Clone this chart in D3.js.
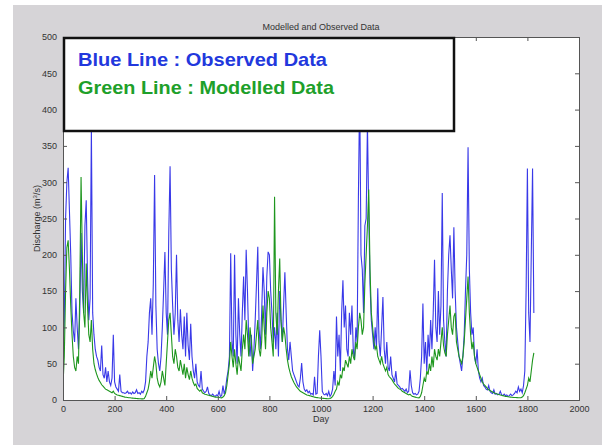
<!DOCTYPE html>
<html><head><meta charset="utf-8">
<script src="https://cdn.jsdelivr.net/npm/d3@7"></script>
<style>html,body{margin:0;padding:0;background:#fff;}svg{display:block;}</style>
</head><body>
<script>
// Day sampling (every 5 days)
const dayStep = 5;
const observed = [
60,110,250,300,320,260,200,120,95,80,
140,100,70,120,230,150,120,240,275,170,
110,140,375,120,90,70,60,55,45,40,
75,35,30,45,25,40,25,20,30,90,
25,18,15,12,35,12,10,10,9,10,
12,9,10,8,11,9,10,14,9,10,
8,12,10,14,25,60,80,120,140,90,
160,310,130,70,50,40,60,100,150,204,
120,90,230,322,180,130,90,120,200,110,
80,125,90,70,115,60,120,75,55,105,
60,40,30,50,25,20,18,40,15,12,
10,12,18,9,7,6,8,6,5,7,
6,12,5,6,20,8,15,30,40,60,
202,80,60,200,90,50,140,90,60,120,
170,110,207,150,80,60,90,40,70,110,
160,211,100,70,120,183,150,90,170,204,
200,150,120,80,100,70,120,60,150,110,
80,130,176,120,70,55,80,60,40,35,
30,25,20,18,30,51,25,15,12,14,
10,12,8,9,7,32,8,9,60,96,
60,12,8,7,9,6,12,5,8,15,
40,20,115,60,90,40,120,165,100,130,
70,60,120,90,130,70,55,100,80,280,
430,200,180,120,240,250,380,260,160,110,
90,70,100,70,154,80,60,100,142,70,
50,80,45,40,60,35,30,25,40,22,
20,18,15,16,14,12,15,10,12,41,
20,10,8,9,7,8,12,30,60,133,
50,80,40,90,60,110,70,120,193,100,
80,150,90,130,285,110,80,60,150,200,
227,180,140,238,150,100,80,60,50,40,
60,90,150,200,348,180,120,90,100,60,
50,70,40,30,25,30,20,18,15,14,
20,12,10,9,14,8,9,7,8,12,
7,6,8,6,7,5,6,8,6,7,
9,12,10,18,12,15,10,20,40,150,
319,120,80,200,319,120
];
const modelled = [
20,60,150,210,220,180,130,90,60,45,
40,60,50,150,307,200,120,100,188,130,
90,80,110,70,50,42,36,31,27,24,
21,19,17,15,14,13,12,11,10,12,
9,8,7,6.5,6,5.5,5,4.5,4,3.8,
3.5,3.2,3,2.8,2.6,2.4,2.2,2,1.9,1.8,
1.7,1.6,1.5,2,5,10,15,25,40,30,
45,60,50,30,22,18,25,40,30,20,
50,80,110,120,90,60,50,70,60,45,
40,55,45,35,50,30,45,35,28,40,
30,24,20,22,16,14,12,14,10,9,
8,7.5,7,6.5,6,5.5,5,4.5,4,4,
3.8,3.5,3.2,3,4,6,10,20,35,50,
80,60,45,70,50,35,60,50,40,70,
90,70,110,90,60,100,80,50,60,70,
90,110,70,60,80,130,100,70,120,150,
140,100,80,60,280,120,90,150,195,110,
80,100,90,70,55,45,38,32,28,24,
21,18,16,14,12,11,10,9,8,7,
6.5,6,5.5,5,4.5,4,3.6,3.3,3,2.8,
2.6,2.4,2.2,2,1.9,1.8,1.7,2,3,5,
8,12,15,25,20,35,30,45,40,55,
50,45,60,50,70,60,55,80,70,100,
120,110,90,100,160,200,240,290,180,120,
100,80,70,75,60,55,50,60,50,45,
40,45,35,32,30,28,25,22,20,18,
16,15,14,12,11,10,9,8,7,8,
6,5,4.5,4,3.5,3.2,3,5,10,20,
30,25,40,35,50,40,60,45,70,60,
55,70,60,80,100,75,65,60,90,110,
130,100,90,115,120,80,70,60,55,50,
60,80,110,140,170,120,90,70,80,60,
50,45,40,35,30,25,22,20,18,16,
14,13,12,11,10,9,8.5,8,7.5,7,
6.5,6,5.5,5,4.8,4.5,4.2,4,3.8,3.6,
3.5,3.4,3.3,3.2,3,3,4,6,10,15,
20,30,25,40,55,65
];
const xTicks = [0,200,400,600,800,1000,1200,1400,1600,1800,2000];
const yTicks = [0,50,100,150,200,250,300,350,400,450,500];
const titleText = "Modelled and Observed Data";
const xLabel = "Day";
const legendLines = ["Blue Line : Observed Data", "Green Line : Modelled Data"];

(function () {
const W = 602, H = 445;
const m = {left: 63, right: 23, top: 37, bottom: 45};
const font = "Arial, 'Liberation Sans', sans-serif";
const svg = d3.select("body").append("svg").attr("width", W).attr("height", H);
svg.append("rect").attr("x", 13).attr("y", 5).attr("width", W - 13).attr("height", H - 5).attr("fill", "#d6d4d7");

const x = d3.scaleLinear().domain([0, 2000]).range([m.left, W - m.right]);
const y = d3.scaleLinear().domain([0, 500]).range([H - m.bottom, m.top]);

svg.append("rect").attr("x", x(0)).attr("y", y(500)).attr("width", x(2000) - x(0)).attr("height", y(0) - y(500)).attr("fill", "#fff");

svg.append("clipPath").attr("id", "c").append("rect")
  .attr("x", x(0)).attr("y", y(500)).attr("width", x(2000) - x(0)).attr("height", y(0) - y(500));

const line = d3.line().x((d, i) => x(i * dayStep)).y(d => y(d));
const g = svg.append("g").attr("clip-path", "url(#c)");
g.append("path").datum(observed).attr("d", line).attr("fill", "none").attr("stroke", "#2424e6").attr("stroke-width", 1.1).attr("stroke-opacity", 0.9);
g.append("path").datum(modelled).attr("d", line).attr("fill", "none").attr("stroke", "#1e961e").attr("stroke-width", 1.1);

const tc = "#333";
const axB = svg.append("g").attr("transform", `translate(0,${y(0)})`)
  .call(d3.axisBottom(x).tickValues(xTicks).tickSize(-4).tickPadding(6).tickFormat(d3.format("d")));
const axT = svg.append("g").attr("transform", `translate(0,${y(500)})`)
  .call(d3.axisTop(x).tickValues(xTicks).tickSize(-4).tickFormat(""));
const axL = svg.append("g").attr("transform", `translate(${x(0)},0)`)
  .call(d3.axisLeft(y).tickValues(yTicks).tickSize(-4).tickPadding(6).tickFormat(d3.format("d")));
const axR = svg.append("g").attr("transform", `translate(${x(2000)},0)`)
  .call(d3.axisRight(y).tickValues(yTicks).tickSize(-4).tickFormat(""));
[axB, axT, axL, axR].forEach(a => {
  a.selectAll("path.domain").attr("stroke", "#555");
  a.selectAll(".tick line").attr("stroke", "#555");
  a.selectAll("text").attr("font-family", font).attr("font-size", 9).attr("fill", tc);
});

svg.append("text").attr("x", (x(0) + x(2000)) / 2).attr("y", 30).attr("text-anchor", "middle")
  .attr("font-family", font).attr("font-size", 9).attr("fill", tc).text(titleText);
svg.append("text").attr("x", (x(0) + x(2000)) / 2).attr("y", 422).attr("text-anchor", "middle")
  .attr("font-family", font).attr("font-size", 9).attr("fill", tc).text(xLabel);
const yl = svg.append("text").attr("transform", `translate(40,${(y(0) + y(500)) / 2}) rotate(-90)`).attr("text-anchor", "middle")
  .attr("font-family", font).attr("font-size", 9).attr("fill", tc);
yl.append("tspan").text("Discharge (m");
yl.append("tspan").attr("font-size", 6).attr("dy", -3).text("3");
yl.append("tspan").attr("dy", 3).text("/s)");

svg.append("rect").attr("x", 64).attr("y", 38).attr("width", 390).attr("height", 93)
  .attr("fill", "#fff").attr("stroke", "#111").attr("stroke-width", 2.5);
const lg = svg.append("g").attr("font-family", font).attr("font-weight", "bold").attr("font-size", 19);
lg.append("text").attr("x", 78).attr("y", 66).attr("fill", "#2238dd")
  .attr("textLength", 249).attr("lengthAdjust", "spacingAndGlyphs").text(legendLines[0]);
lg.append("text").attr("x", 78).attr("y", 94).attr("fill", "#1ea02a")
  .attr("textLength", 256).attr("lengthAdjust", "spacingAndGlyphs").text(legendLines[1]);
})();
</script>
</body></html>
